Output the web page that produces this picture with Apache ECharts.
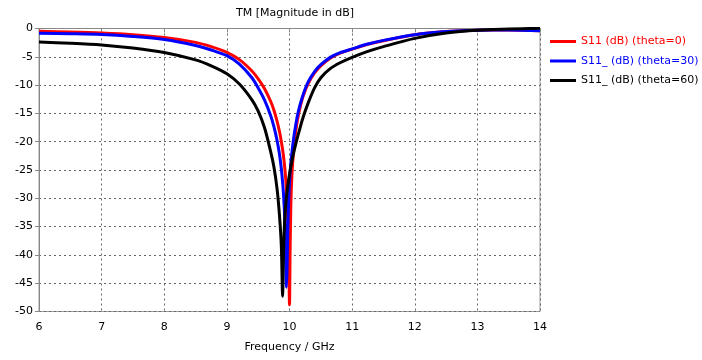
<!DOCTYPE html>
<html>
<head>
<meta charset="utf-8">
<script src="https://cdn.jsdelivr.net/npm/echarts@6/dist/echarts.min.js"></script>
<style>
html,body{margin:0;padding:0;background:#fff;}
#c{width:702px;height:360px;}
</style>
</head>
<body>
<div id="c"></div>
<script>
var freq = [6, 6.5, 7, 7.5, 8, 8.5, 8.75, 9, 9.2, 9.4, 9.5, 9.6, 9.7, 9.75, 9.8, 9.84, 9.87, 9.89, 9.9, 9.91,
  9.92, 9.93, 9.94, 9.95, 9.96, 9.97, 9.98, 9.99, 10.0, 10.01, 10.02, 10.03, 10.05, 10.07, 10.1,
  10.13, 10.17, 10.22, 10.3, 10.4, 10.5, 10.65, 10.8, 11, 11.25, 11.5, 12, 12.5, 13, 13.5, 14];

var s11_theta0 = [-0.5, -0.62, -0.8, -1.1, -1.6, -2.45, -3.2, -4.2, -5.5, -7.5,
  -8.9, -10.6, -12.9, -14.4, -16.3, -18.2, -20.0, -21.4, -22.2, -23.1,
  -24.1, -25.3, -26.6, -28.2, -30.1, -32.6, -36.2, -41.5, -48.8, -38.8,
  -32.0, -28.0, -23.8, -21.0, -18.1, -16.0, -13.9, -11.9, -9.7, -7.85,
  -6.6, -5.25, -4.4, -3.65, -2.8, -2.15, -1.1, -0.55, -0.3, -0.28, -0.38];

var s11_theta30 = [-0.85, -0.92, -1.05, -1.4, -1.95, -3.0, -3.8, -4.8, -6.3, -8.7,
  -10.5, -12.6, -15.4, -17.3, -19.7, -22.2, -24.8, -27.2, -28.6, -30.4,
  -32.5, -35.5, -39.8, -45.7, -43.0, -37.0, -32.5, -29.5, -27.2, -25.4,
  -24.0, -22.8, -20.8, -19.1, -17.0, -15.2, -13.4, -11.6, -9.4, -7.6,
  -6.4, -5.1, -4.3, -3.6, -2.75, -2.1, -1.1, -0.55, -0.3, -0.28, -0.38];

var s11_theta60 = [-2.4, -2.6, -2.9, -3.45, -4.25, -5.55, -6.6, -8.0, -9.8, -12.6,
  -14.6, -17.5, -21.8, -24.4, -28.2, -33.0, -38.5, -47.3, -42.0, -37.5,
  -34.6, -32.6, -31.1, -29.9, -28.9, -28.0, -27.2, -26.45, -25.75, -25.1,
  -24.5, -23.9, -22.8, -21.8, -20.4, -19.1, -17.5, -15.6, -13.1, -10.5,
  -8.7, -7.1, -6.1, -5.1, -4.05, -3.2, -1.75, -0.8, -0.3, -0.1, 0.05];

var seriesNames = ['S11 (dB) (theta=0)', 'S11_ (dB) (theta=30)', 'S11_ (dB) (theta=60)'];
var seriesColors = ['#ff0000', '#0000ff', '#000000'];
var seriesValues = [s11_theta0, s11_theta30, s11_theta60];

var FONT = 'DejaVu Sans';

function pairs(vals) {
  return freq.map(function (f, i) { return [f, vals[i]]; });
}

var chart = echarts.init(document.getElementById('c'), null, {renderer: 'canvas'});
chart.setOption({
  animation: false,
  backgroundColor: '#ffffff',
  title: {
    text: 'TM [Magnitude in dB]',
    left: 290, top: 3, textAlign: 'center',
    textStyle: {fontFamily: FONT, fontSize: 11, fontWeight: 'normal', color: '#000'}
  },
  legend: {
    orient: 'vertical',
    left: 545, top: 31,
    itemWidth: 26, itemHeight: 3, itemGap: 8.5,
    icon: 'rect',
    textStyle: {fontFamily: FONT, fontSize: 11},
    data: seriesNames.map(function (n, i) {
      return {name: n, textStyle: {color: seriesColors[i]}};
    })
  },
  grid: {
    left: 39, right: 162, top: 28.5, bottom: 48.5,
    show: true, borderColor: '#999', borderWidth: 1
  },
  xAxis: {
    type: 'value', min: 6, max: 14, interval: 1,
    name: 'Frequency / GHz', nameLocation: 'middle', nameGap: 30,
    nameTextStyle: {fontFamily: FONT, fontSize: 11, color: '#000'},
    axisLine: {show: true, lineStyle: {color: '#888'}},
    axisTick: {show: true, length: 4, lineStyle: {color: '#888'}},
    axisLabel: {fontFamily: FONT, fontSize: 11, color: '#000', margin: 10},
    splitLine: {show: true, lineStyle: {color: '#666', type: [2, 3], width: 1}}
  },
  yAxis: {
    type: 'value', min: -50, max: 0, interval: 5,
    axisLine: {show: true, lineStyle: {color: '#888'}},
    axisTick: {show: true, length: 4, lineStyle: {color: '#888'}},
    axisLabel: {fontFamily: FONT, fontSize: 11, color: '#000', margin: 6},
    splitLine: {show: true, lineStyle: {color: '#666', type: [2, 3], width: 1}}
  },
  series: seriesNames.map(function (n, i) {
    return {
      name: n, type: 'line', showSymbol: false, symbol: 'none',
      smooth: 0.3,
      data: pairs(seriesValues[i]),
      lineStyle: {color: seriesColors[i], width: 3},
      itemStyle: {color: seriesColors[i]},
      z: 2 + i
    };
  })
});
</script>
</body>
</html>
